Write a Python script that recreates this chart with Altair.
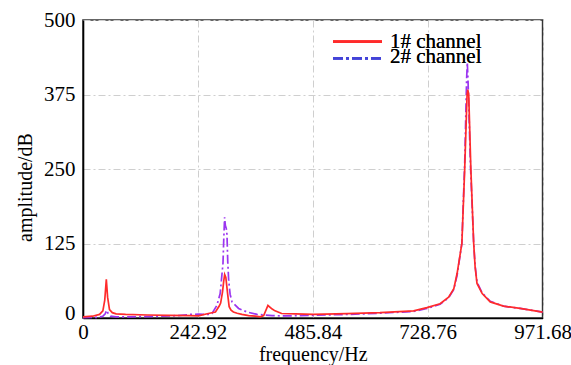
import altair as alt
import pandas as pd

# ---- data ----
red_freq = [0, 20, 35, 42, 46, 49.3, 52, 56, 62, 70, 90, 136, 180, 227, 244, 265, 280, 288,
            291, 295, 297.5, 299.5, 302, 305.7, 309, 313, 318, 326, 336, 350, 364, 375, 382,
            391, 400, 406, 420, 449, 487, 558, 628, 699, 727, 755, 773, 784, 791, 801, 807,
            812, 813.5, 815.5, 820, 826, 829, 833, 844, 861, 889, 924, 971.68]
red_amp = [2, 3, 6, 12, 30, 65, 35, 14, 9, 7, 6, 5, 4.5, 4, 3.5, 7.5, 10, 20,
           25, 44, 62, 73, 68, 41, 19, 13, 10, 8, 6, 4, 3, 2, 4,
           21, 15, 12, 7.5, 7, 6, 7.5, 9, 12, 17.5, 24, 35, 49, 75, 125, 250,
           375, 383, 375, 250, 125, 86, 58, 41, 27, 20, 16, 10]

purple_freq = [0, 30, 42, 47, 50, 53, 58, 70, 100, 150, 200, 227, 244, 265, 272.7, 283, 290,
               296, 297.5, 299.4, 301, 303, 304.4, 306, 308, 311, 315, 329, 347, 368, 400,
               428, 487, 558, 628, 699, 727, 755, 773, 784, 791, 801, 807, 811, 812.5, 814,
               819, 826, 829, 833, 844, 861, 889, 924, 971.68]
purple_amp = [0.5, 1, 3, 7, 13, 8, 3, 2, 2, 2.5, 4, 6, 6.5, 6, 7.5, 21, 41,
              92, 130, 169, 155, 150, 140, 95, 63, 40, 27, 16, 10, 6, 4,
              3.5, 4.5, 6, 8, 11, 16, 23, 34, 48, 72, 125, 260, 400, 429, 400,
              260, 125, 88, 60, 42, 28, 20, 16, 10]

x_ticks = [0, 242.92, 485.84, 728.76, 971.68]
y_ticks = [0, 125, 250, 375, 500]
legend_labels = ["1# channel", "2# channel"]

RED = "#ff2b2b"
PURPLE = "#9b35f0"
LEGEND_BLUE = "#4343d8"
FONT = "Liberation Serif"

red_df = pd.DataFrame({"freq": red_freq, "amp": red_amp})
purple_df = pd.DataFrame({"freq": purple_freq, "amp": purple_amp})

x_enc = alt.X(
    "freq:Q",
    scale=alt.Scale(domain=[0, 971.68], nice=False, zero=False),
    axis=alt.Axis(
        values=x_ticks,
        title="frequency/Hz",
        labelExpr="datum.value == 0 ? '0' : format(datum.value, '.2f')",
        labelFlush=False,
        labelPadding=4,
        labelFont=FONT,
        labelFontSize=21,
        titleFont=FONT,
        titleFontSize=20,
        titleY=37,
        titleBaseline="middle",
    ),
)
y_enc = alt.Y(
    "amp:Q",
    scale=alt.Scale(domain=[0, 500], nice=False),
    axis=alt.Axis(
        values=y_ticks,
        title="amplitude/dB",
        labelPadding=8,
        labelFont=FONT,
        labelFontSize=21,
        titleFont=FONT,
        titleFontSize=20,
        labelOffset={"condition": {"test": "datum.value == 0", "value": -4}, "value": 0},
        titleX=-57,
        titleY=167,
        titleBaseline="middle",
    ),
)

purple_line = alt.Chart(purple_df).mark_line(
    color=PURPLE, strokeWidth=1.7, strokeDash=[9, 3, 2, 3]
).encode(x=x_enc, y=y_enc)

red_line = alt.Chart(red_df).mark_line(
    color=RED, strokeWidth=1.7
).encode(x="freq:Q", y="amp:Q")

leg_df = pd.DataFrame({"label": legend_labels})

leg_red = alt.Chart(leg_df).mark_rule(color=RED, strokeWidth=2.8).encode(
    x=alt.value(250), x2=alt.value(299), y=alt.value(21.7)
)
leg_purple = alt.Chart(leg_df).mark_rule(
    color=LEGEND_BLUE, strokeWidth=2.8, strokeDash=[10, 3, 3, 3]
).encode(x=alt.value(250), x2=alt.value(299), y=alt.value(38.3))
leg_t1 = alt.Chart(leg_df).mark_text(
    align="left", baseline="alphabetic", font=FONT, fontSize=21, color="black"
).encode(x=alt.value(307), y=alt.value(27.7), text=alt.value(legend_labels[0]))
leg_t2 = alt.Chart(leg_df).mark_text(
    align="left", baseline="alphabetic", font=FONT, fontSize=21, color="black"
).encode(x=alt.value(307), y=alt.value(42.7), text=alt.value(legend_labels[1]))

chart = (
    alt.layer(purple_line, red_line, leg_red, leg_purple, leg_t1, leg_t2)
    .properties(
        width=459.6,
        height=298,
        padding={"left": 83, "top": 20, "right": 28, "bottom": 47},
        autosize="none",
        background="white",
    )
    .configure_view(stroke="#333333", strokeWidth=1.6)
    .configure_axis(
        labelFont=FONT,
        titleFont=FONT,
        titleFontWeight="normal",
        labelColor="black",
        titleColor="black",
        ticks=False,
        domainColor="black",
        domainWidth=1.6,
        gridColor="#cfcfcf",
        gridDash=[7, 3, 2, 3],
        gridWidth=1,
    )
)

chart.save("out.html", embed_options={"renderer": "svg", "actions": False})
